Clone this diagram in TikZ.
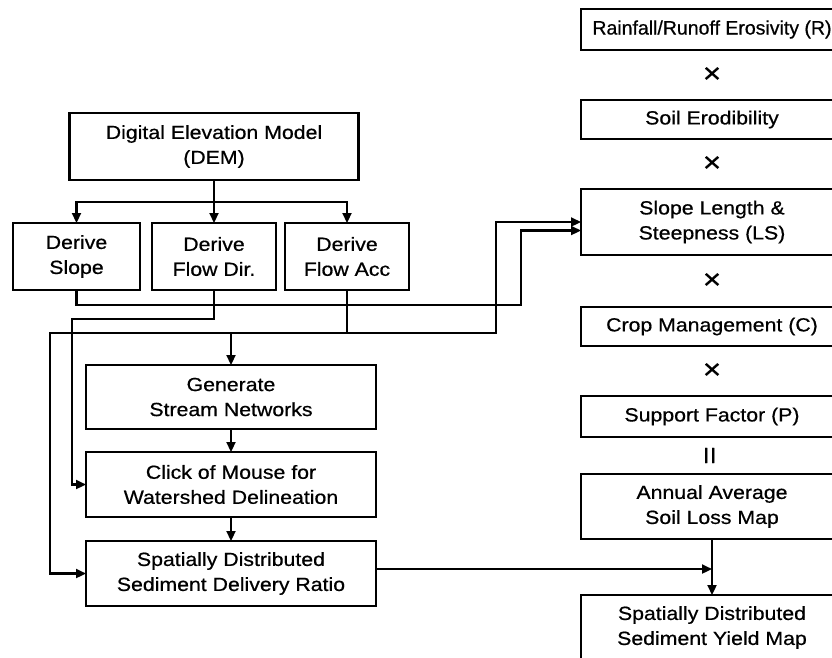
\documentclass[tikz,border=0pt]{standalone}
\usepackage{fontspec}
\setmainfont{Liberation Sans}[FakeStretch=1.12, FakeBold=0.6]
\newfontfamily\plainsans{Liberation Sans}[FakeBold=0.6]
\usetikzlibrary{arrows.meta, positioning}
\tikzset{
  blk/.style={
    rectangle, draw=black, line width=2.2pt, fill=white, align=center,
    inner sep=2pt, outer sep=0pt, font=\fontsize{19}{25}\selectfont},
  dblk/.style={blk, minimum width=124pt, minimum height=67pt},
  lblk/.style={blk, minimum width=290pt, minimum height=65pt},
  rblk/.style={blk, minimum width=262pt, minimum height=40pt},
  rblkt/.style={rblk, minimum height=65pt},
  arr/.style={-{Triangle[length=10pt,width=9pt]}, line width=2.2pt},
  opsym/.style={font=\fontsize{28}{28}\selectfont, inner sep=0pt},
}
\begin{document}
\begin{tikzpicture}[x=1pt, y=-1pt]
  \useasboundingbox (0,0) rectangle (832,657);
  % terrain processing
  \node[blk, minimum width=289pt, minimum height=67pt] (dem) at (214,146.5) {Digital Elevation Model\\(DEM)};
  \node[dblk, minimum width=127pt] (slope) at (76.5,256.5) {Derive\\Slope};
  \node[dblk] (fdir) at (214,256.5) {Derive\\Flow Dir.};
  \node[dblk] (facc) at (347,256.5) {Derive\\Flow Acc};
  \node[lblk, minimum height=64pt] (stream) at (231,397) {Generate\\Stream Networks};
  \node[lblk, below=23pt of stream] (click) {Click of Mouse for\\Watershed Delineation};
  \node[lblk, below=24pt of click] (sdr) {Spatially Distributed\\Sediment Delivery Ratio};
  % USLE factors
  \node[rblk, minimum height=41pt, font=\plainsans\fontsize{19.5}{25}\selectfont] (rain) at (712,29.5) {Rainfall/Runoff Erosivity (R)};
  \node[rblk, minimum height=39pt, below=50pt of rain] (soil) {Soil Erodibility};
  \node[rblkt, minimum height=66pt, below=50pt of soil] (ls) {Slope Length \&\\Steepness (LS)};
  \node[rblk, minimum height=39pt, below=52pt of ls] (crop) {Crop Management (C)};
  \node[rblk, minimum height=41pt, below=50pt of crop] (supp) {Support Factor (P)};
  \node[rblkt, below=37pt of supp] (annual) {Annual Average\\Soil Loss Map};
  \node[rblkt, below=56pt of annual] (yield) {Spatially Distributed\\Sediment Yield Map};
  \path (rain) -- node[opsym]{×} (soil);
  \path (soil) -- node[opsym]{×} (ls);
  \path (ls) -- node[opsym]{×} (crop);
  \path (crop) -- node[opsym]{×} (supp);
  \path (supp) -- node[opsym, rotate=90]{=} (annual);
  % connectors
  \coordinate (split) at (dem.south |- 0,202);
  \coordinate (accjoin) at (facc.south |- 0,333);
  \draw[arr] (dem.south) -- (split) -| (slope);
  \draw[arr] (split) -- (fdir);
  \draw[arr] (split) -| (facc);
  \draw[arr] (slope.south) |- (521,305) |- ([yshift=-8.5pt]ls.west);
  \draw[arr] (fdir.south) |- (72,319) |- (click.west);
  \draw[arr] (facc.south) |- (50,333) |- (sdr.west);
  \draw[arr] (accjoin) -- (496,333) |- (ls.west);
  \draw[arr] (stream |- accjoin) -- (stream);
  \draw[arr] (stream) -- (click);
  \draw[arr] (click) -- (sdr);
  \draw[arr] (annual) -- (yield);
  \draw[arr] ([yshift=4.5pt]sdr.east) -- ([yshift=4.5pt]sdr.east -| annual);
\end{tikzpicture}
\end{document}
